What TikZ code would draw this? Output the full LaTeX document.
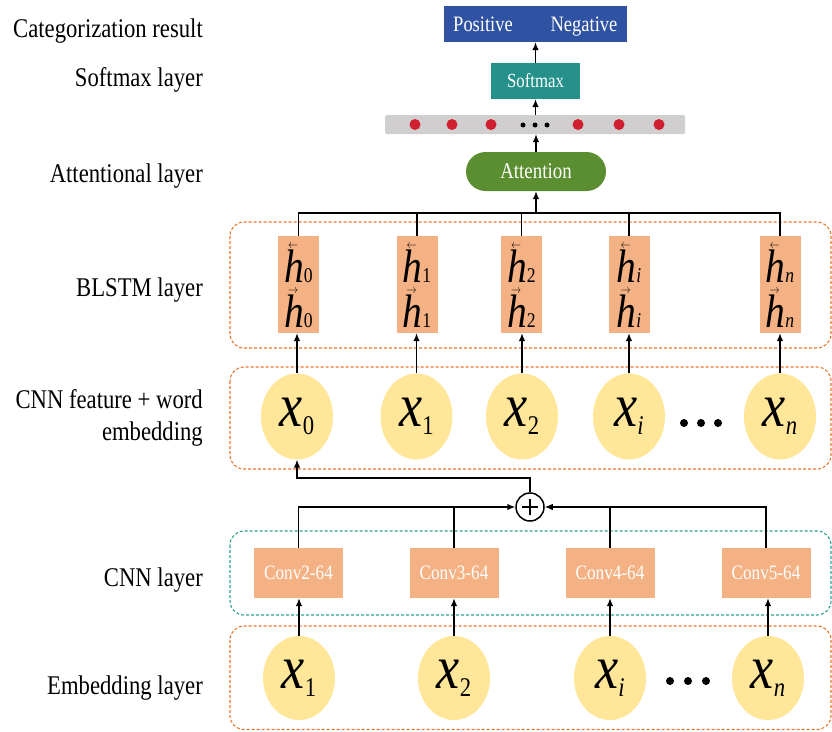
\documentclass[tikz,border=0pt]{standalone}
\usepackage{fontspec}
\setmainfont{Liberation Serif}
\usetikzlibrary{arrows.meta,shapes.geometric}
\definecolor{cblue}{HTML}{2F52A2}
\definecolor{cteal}{HTML}{25918A}
\definecolor{cgray}{HTML}{D0CECE}
\definecolor{cred}{HTML}{D0202F}
\definecolor{cgreen}{HTML}{5B8E31}
\definecolor{corange}{HTML}{F4B183}
\definecolor{cyellow}{HTML}{FFE699}
\definecolor{dorange}{HTML}{E8772E}
\definecolor{dteal}{HTML}{2EA08F}
\newcommand{\sq}[1]{\scalebox{0.84}[1]{#1}}
\newcommand{\xsym}[1]{\sq{\fontsize{62}{62}\selectfont\textit{x}\raisebox{-8pt}{\fontsize{27}{27}\selectfont #1}}}
\newcommand{\hsym}[2]{\sq{\fontsize{47}{47}\selectfont\makebox[0pt][l]{\hspace{0.1em}\raisebox{0.71em}[0pt][0pt]{\fontsize{13}{13}\selectfont$#1$}}\textit{h}{\fontsize{21}{21}\selectfont #2}}}
\begin{document}
\begin{tikzpicture}[x=1pt,y=-1pt,
  conn/.style={line width=1.2pt},
  arr/.style={line width=1.2pt,-{Latex[length=8pt,width=6.5pt]}},
  layerbox/.style={dash pattern=on 3pt off 2pt,line width=1.1pt,rounded corners=14pt},
  lbl/.style={anchor=base east,inner sep=0,font=\fontsize{27}{27}\selectfont},
  hbox/.style={fill=corange,minimum width=41pt,minimum height=97pt,inner sep=0},
  convbox/.style={fill=corange,minimum width=89pt,minimum height=50pt,inner sep=0,text=white,font=\fontsize{20.5}{20.5}\selectfont},
  xell/.style={ellipse,fill=cyellow,minimum width=72pt,minimum height=86pt,inner sep=0},
  rdot/.style={circle,fill=cred,minimum size=11pt,inner sep=0},
  bdot/.style={circle,fill=black,minimum size=5pt,inner sep=0},
  wtxt/.style={text=white,inner sep=0},
]
\useasboundingbox (0,0) rectangle (832,731);

% layer frames
\draw[layerbox,draw=dorange] (230,222) rectangle (831,348);
\draw[layerbox,draw=dorange] (230,367) rectangle (831,469);
\draw[layerbox,draw=dteal] (230,531) rectangle (831,615);
\draw[layerbox,draw=dorange] (230,626) rectangle (831,729.5);

% left labels
\node[lbl] (l1) at (203,37) {\sq{Categorization result}};
\node[lbl] (l2) at (203,86) {\sq{Softmax layer}};
\node[lbl] (l3) at (203,182) {\sq{Attentional layer}};
\node[lbl] (l4) at (203,296) {\sq{BLSTM layer}};
\node[lbl] (l5) at (203,408) {\sq{CNN feature + word}};
\node[lbl] (l6) at (203,440) {\sq{embedding}};
\node[lbl] (l7) at (203,586) {\sq{CNN layer}};
\node[lbl] (l8) at (203,694) {\sq{Embedding layer}};

% top part
\node[fill=cblue,minimum width=183pt,minimum height=36pt,inner sep=0] (res) at (535.5,24) {};
\node[wtxt,font=\fontsize{22}{22}\selectfont,anchor=base] (pos) at (483,31) {\sq{Positive}};
\node[wtxt,font=\fontsize{22}{22}\selectfont,anchor=base] (neg) at (584,31) {\sq{Negative}};
\node[fill=cteal,minimum width=89pt,minimum height=36pt,inner sep=0,text=white,font=\fontsize{20}{20}\selectfont] (soft) at (535.5,81) {\sq{Softmax}};
\node[fill=cgray,minimum width=300pt,minimum height=19pt,inner sep=0,rounded corners=2pt] (bar) at (535,124.5) {};
\foreach \x [count=\i] in {415,452,491,578,619,659} \node[rdot] (r\i) at (\x,124.5) {};
\foreach \x [count=\i] in {523,535,547} \node[bdot] (k\i) at (\x,125) {};
\node[fill=cgreen,minimum width=140pt,minimum height=39pt,inner sep=0,rounded corners=19.5pt,text=white,font=\fontsize{22.5}{22.5}\selectfont] (att) at (536,171.5) {\sq{Attention}};

\draw[arr] (att.north) -- (att.north |- bar.south);
\draw[arr] (bar.north -| soft.south) -- (soft.south);
\draw[arr] (soft.north) -- (soft.north |- res.south);

% BLSTM
\foreach \n/\x/\s in {0/298.5/0,1/417/1,2/521.5/2,i/629/\textit{i},n/780/\textit{n}} {
  \node[hbox] (h\n) at (\x,284.5) {};
  \node[anchor=base,inner sep=0] (h\n-a) at (\x,282) {\hsym{\leftarrow}{\s}};
  \node[anchor=base,inner sep=0] (h\n-b) at (\x,327) {\hsym{\rightarrow}{\s}};
}
\coordinate (bus) at (0,213);
\draw[conn] (h0.north) -- (h0.north |- bus) -- (hn.north |- bus) -- (hn.north);
\foreach \n in {1,2,i} \draw[conn] (h\n.north) -- (h\n.north |- bus);
\draw[arr] (att.south |- bus) -- (att.south);

% CNN feature + word embedding
\foreach \n/\x/\s in {0/297/0,1/416.5/1,2/522/2,i/629/\textit{i},n/780/\textit{n}} {
  \node[xell] (f\n) at (\x,416.5) {\xsym{\s}};
  \draw[arr] (f\n.north) -- (f\n.north |- h\n.south);
}
\foreach \x [count=\i] in {684,701,718} \node[bdot,minimum size=8pt] (fd\i) at (\x,423) {};

% embedding layer
\foreach \n/\x/\s in {1/299/1,2/454/2,i/610/\textit{i},n/768/\textit{n}}
  \node[xell,minimum height=84pt] (e\n) at (\x,678) {\xsym{\s}};
\foreach \x [count=\i] in {670,688,706} \node[bdot,minimum size=8pt] (ed\i) at (\x,681) {};

% CNN layer
\foreach \n/\x/\k in {1/298.5/2,2/454/3,i/610/4,n/766/5} {
  \node[convbox] (c\n) at (\x,573) {\sq{Conv\k-64}};
  \draw[arr] (e\n.north) -- (e\n.north |- c\n.south);
}

% merge
\node[circle,draw,line width=1.5pt,minimum size=28pt,inner sep=0] (plus) at (530,507) {};
\draw[line width=1.8pt] ([xshift=-8pt]plus.center) -- ([xshift=8pt]plus.center)
  ([yshift=-8pt]plus.center) -- ([yshift=8pt]plus.center);
\draw[arr] (c1.north) |- (plus.west);
\draw[conn] (c2.north) -- (c2.north |- plus.west);
\draw[arr] (cn.north) |- (plus.east);
\draw[conn] (ci.north) -- (ci.north |- plus.east);
\coordinate (up) at (0,478);
\draw[arr] (plus.north) -- (plus.north |- up) -| (f0.south);
\end{tikzpicture}
\end{document}
